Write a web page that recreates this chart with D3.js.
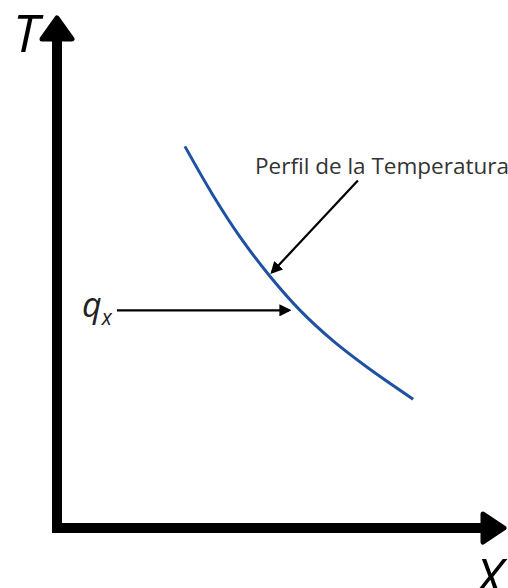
<html>
<head>
<script src="https://d3js.org/d3.v7.min.js"></script>
<style>
    body { margin: 0; background: #fff; }
    svg { display: block; }
    .lbl { font-family: "Open Sans", sans-serif; }
</style>
</head>
<body>
<svg id="chart" width="508" height="588"></svg>
<script>

    // temperature profile (arbitrary units)
    let profX = [3.01, 3.67, 4.31, 5.01, 5.72, 6.49, 7.29, 8.38];
    let profT = [7.82, 6.82, 5.96, 5.16, 4.46, 3.84, 3.30, 2.64];

    let axisLabels = ['X', 'T'];
    let profLabel = 'Perfil de la Temperatura';
    let fluxLabel = ['q', 'x'];

    let svg = d3.select('#chart');
    let width = +svg.attr('width'),
        height = +svg.attr('height');

    let x = d3.scaleLinear().domain([0, 10]).range([57, 482]);
    let y = d3.scaleLinear().domain([0, 10]).range([528, 40]);

    // axes: just the thick domain lines
    svg.append('g')
        .attr('transform', 'translate(0,' + y(0) + ')')
        .call(d3.axisBottom(x).tickValues([]).tickSizeOuter(0))
        .select('.domain')
        .attr('d', 'M' + (x(0) - 5) + ',0H' + x(10))
        .attr('stroke', '#000')
        .attr('stroke-width', 10);

    svg.append('g')
        .attr('transform', 'translate(' + x(0) + ',0)')
        .call(d3.axisLeft(y).tickValues([]).tickSizeOuter(0))
        .select('.domain')
        .attr('d', 'M0,' + (y(0) + 5) + 'V' + y(10))
        .attr('stroke', '#000')
        .attr('stroke-width', 10);

    // arrow heads
    svg.append('path')
        .attr('d', 'M' + (x(0) - 15) + ',' + (y(10) - 1) +
                   'L' + x(0) + ',' + (y(10) - 22) +
                   'L' + (x(0) + 15) + ',' + (y(10) - 1) + 'Z')
        .attr('fill', '#000').attr('stroke', '#000')
        .attr('stroke-width', 5).attr('stroke-linejoin', 'round');

    svg.append('path')
        .attr('d', 'M' + (x(10) + 1) + ',' + (y(0) - 14) +
                   'L' + (x(10) + 22) + ',' + y(0) +
                   'L' + (x(10) + 1) + ',' + (y(0) + 14) + 'Z')
        .attr('fill', '#000').attr('stroke', '#000')
        .attr('stroke-width', 5).attr('stroke-linejoin', 'round');

    svg.append('text').attr('class', 'lbl')
        .attr('x', x(0) - 44).attr('y', y(10) + 12)
        .attr('font-size', 52).attr('font-style', 'italic')
        .text(axisLabels[1]);

    svg.append('text').attr('class', 'lbl')
        .attr('x', x(10) - 6).attr('y', y(0) + 68)
        .attr('font-size', 52).attr('font-style', 'italic')
        .text(axisLabels[0]);

    // profile curve
    let line = d3.line()
        .x((d, i) => x(profX[i]))
        .y(d => y(d))
        .curve(d3.curveCatmullRom);

    svg.append('path')
        .datum(profT)
        .attr('d', line)
        .attr('fill', 'none')
        .attr('stroke', '#1f51a3')
        .attr('stroke-width', 3);

    // annotation arrows
    svg.append('defs').append('marker')
        .attr('id', 'head')
        .attr('viewBox', '0 0 10 10')
        .attr('refX', 8).attr('refY', 5)
        .attr('markerWidth', 5.5).attr('markerHeight', 5.5)
        .attr('orient', 'auto')
      .append('path')
        .attr('d', 'M0,0L10,5L0,10Z')
        .attr('fill', '#000');

    let arrows = [
        { x1: 7.08, y1: 7.12, x2: 5.06, y2: 5.24 },
        { x1: 1.41, y1: 4.46, x2: 5.46, y2: 4.46 }
    ];

    svg.selectAll('.ann')
        .data(arrows)
      .enter()
        .append('line')
        .attr('class', 'ann')
        .attr('x1', d => x(d.x1)).attr('y1', d => y(d.y1))
        .attr('x2', d => x(d.x2)).attr('y2', d => y(d.y2))
        .attr('stroke', '#000')
        .attr('stroke-width', 2.2)
        .attr('marker-end', 'url(#head)');

    svg.append('text').attr('class', 'lbl')
        .attr('x', x(4.66)).attr('y', y(7.26))
        .attr('font-size', 22.5).attr('fill', '#333')
        .text(profLabel);

    let q = svg.append('text').attr('class', 'lbl')
        .attr('x', x(0.59)).attr('y', y(4.32))
        .attr('font-style', 'italic').attr('fill', '#222');
    q.append('tspan').attr('font-size', 34).text(fluxLabel[0]);
    q.append('tspan').attr('font-size', 21).attr('dy', 8).text(fluxLabel[1]);

</script>
</body>
</html>
